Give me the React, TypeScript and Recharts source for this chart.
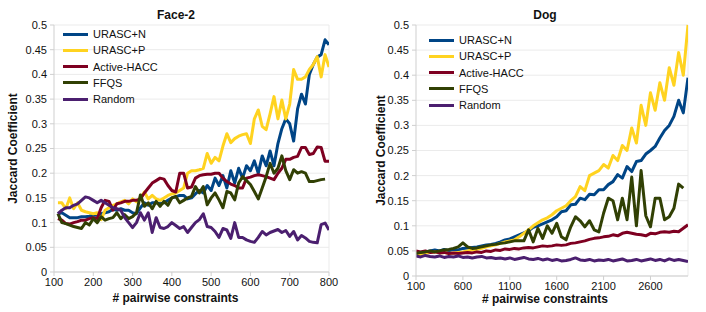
import { CartesianGrid, Label, Legend, Line, LineChart, ReferenceLine, XAxis, YAxis } from 'recharts'

const FONT = '"Liberation Sans", Arial, sans-serif'

const SERIES_NAMES = ['URASC+N', 'URASC+P', 'Active-HACC', 'FFQS', 'Random']
const SERIES_COLORS = ['#004586', '#ffd320', '#7e0021', '#314004', '#4b1f6f']
const Y_TICKS = [0, 0.05, 0.1, 0.15, 0.2, 0.25, 0.3, 0.35, 0.4, 0.45, 0.5]

// Face-2
const FACE_X = [
  110, 120, 130, 140, 150, 160, 170, 180, 190, 200,
  210, 220, 230, 240, 250, 260, 270, 280, 290, 300,
  310, 320, 330, 340, 350, 360, 370, 380, 390, 400,
  410, 420, 430, 440, 450, 460, 470, 480, 490, 500,
  510, 520, 530, 540, 550, 560, 570, 580, 590, 600,
  610, 620, 630, 640, 650, 660, 670, 680, 690, 700,
  710, 720, 730, 740, 750, 760, 770, 780, 790, 800,
]
const FACE_TICKS = [100, 200, 300, 400, 500, 600, 700, 800]
const FACE_N = [
  0.118, 0.12, 0.115, 0.11, 0.11, 0.11, 0.112, 0.112, 0.113, 0.115,
  0.115, 0.118, 0.12, 0.122, 0.127, 0.125, 0.128, 0.125, 0.125, 0.12,
  0.118, 0.13, 0.14, 0.135, 0.14, 0.14, 0.138, 0.14, 0.145, 0.15,
  0.152, 0.155, 0.155, 0.148, 0.15, 0.158, 0.165, 0.16, 0.175, 0.165,
  0.19, 0.175, 0.195, 0.17, 0.205, 0.18, 0.21, 0.19, 0.215, 0.205,
  0.225, 0.2, 0.235, 0.215, 0.245, 0.215, 0.26, 0.29, 0.31, 0.3,
  0.265, 0.33, 0.36, 0.34, 0.4, 0.42, 0.435, 0.44, 0.47, 0.46,
]
const FACE_P = [
  0.14, 0.14, 0.128, 0.15, 0.128, 0.14, 0.125, 0.122, 0.12, 0.118,
  0.12, 0.106, 0.125, 0.13, 0.135, 0.138, 0.142, 0.145, 0.138, 0.148,
  0.142, 0.15, 0.162, 0.148, 0.155, 0.148, 0.145, 0.15, 0.155, 0.158,
  0.16, 0.165, 0.17, 0.2, 0.205, 0.205, 0.207, 0.21, 0.24, 0.22,
  0.232, 0.225, 0.255, 0.28, 0.262, 0.27, 0.275, 0.278, 0.28, 0.26,
  0.31, 0.328, 0.295, 0.288, 0.32, 0.355, 0.31, 0.348, 0.31, 0.34,
  0.41, 0.39, 0.39, 0.395, 0.41, 0.42, 0.436, 0.395, 0.44, 0.415,
]
const FACE_HACC = [
  0.108, 0.105, 0.098, 0.097, 0.1, 0.102, 0.105, 0.105, 0.108, 0.11,
  0.108, 0.13, 0.145, 0.143, 0.125, 0.138, 0.14, 0.143, 0.143, 0.145,
  0.145, 0.148, 0.16, 0.17, 0.18, 0.185, 0.19, 0.188, 0.175, 0.165,
  0.162, 0.2, 0.2, 0.17, 0.172, 0.19, 0.195, 0.197, 0.198, 0.198,
  0.2, 0.2, 0.19, 0.183, 0.178, 0.175, 0.17, 0.17, 0.19, 0.192,
  0.195, 0.197, 0.195, 0.193, 0.19, 0.187, 0.2, 0.21, 0.228, 0.228,
  0.232, 0.234, 0.252, 0.252, 0.238, 0.24, 0.253, 0.252, 0.224, 0.224,
]
const FACE_FFQS = [
  0.118, 0.1, 0.098, 0.095, 0.092, 0.09, 0.088, 0.1, 0.095, 0.108,
  0.1, 0.112, 0.105, 0.108, 0.11, 0.12, 0.108, 0.116, 0.108, 0.112,
  0.12, 0.156, 0.133, 0.14, 0.128, 0.143, 0.133, 0.143, 0.135, 0.15,
  0.153, 0.14, 0.145, 0.15, 0.153, 0.173, 0.16, 0.173, 0.136, 0.15,
  0.16, 0.146, 0.13, 0.163, 0.16, 0.146, 0.18, 0.193, 0.185, 0.177,
  0.163, 0.148, 0.17, 0.193, 0.22, 0.2, 0.21, 0.235, 0.205, 0.187,
  0.207, 0.2, 0.203, 0.2, 0.183, 0.183, 0.185, 0.187, 0.188, null,
]
const FACE_RANDOM = [
  0.118, 0.125, 0.13, 0.13, 0.135, 0.138, 0.145, 0.152, 0.15, 0.145,
  0.14, 0.145, 0.14, 0.135, 0.13, 0.128, 0.125, 0.11, 0.1, 0.09,
  0.1, 0.12, 0.105, 0.12, 0.08, 0.11, 0.09, 0.088, 0.092, 0.1,
  0.094, 0.088, 0.092, 0.08, 0.09, 0.1, 0.106, 0.118, 0.092, 0.09,
  0.082, 0.07, 0.088, 0.085, 0.068, 0.1, 0.07, 0.07, 0.065, 0.062,
  0.06, 0.07, 0.082, 0.075, 0.08, 0.083, 0.086, 0.08, 0.084, 0.072,
  0.082, 0.065, 0.074, 0.069, 0.062, 0.06, 0.059, 0.096, 0.099, 0.085,
]

// Dog
const DOG_X = [
  100, 150, 200, 250, 300, 350, 400, 450, 500, 550,
  600, 650, 700, 750, 800, 850, 900, 950, 1000, 1050,
  1100, 1150, 1200, 1250, 1300, 1350, 1400, 1450, 1500, 1550,
  1600, 1650, 1700, 1750, 1800, 1850, 1900, 1950, 2000, 2050,
  2100, 2150, 2200, 2250, 2300, 2350, 2400, 2450, 2500, 2550,
  2600, 2650, 2700, 2750, 2800, 2850, 2900, 2950, 3000,
]
const DOG_TICKS = [100, 600, 1100, 1600, 2100, 2600]
const DOG_N = [
  0.045, 0.047, 0.048, 0.05, 0.052, 0.05, 0.053, 0.05, 0.053, 0.052,
  0.055, 0.056, 0.057, 0.058, 0.06, 0.062, 0.063, 0.065, 0.068, 0.072,
  0.074, 0.078, 0.082, 0.086, 0.09, 0.097, 0.1, 0.104, 0.108, 0.112,
  0.118, 0.128, 0.13, 0.142, 0.143, 0.155, 0.152, 0.163, 0.162, 0.172,
  0.172, 0.182, 0.188, 0.202, 0.195, 0.218, 0.208, 0.228, 0.23, 0.243,
  0.25, 0.258, 0.275, 0.29, 0.3, 0.318, 0.35, 0.325, 0.395,
]
const DOG_P = [
  0.04, 0.042, 0.045, 0.047, 0.048, 0.046, 0.047, 0.045, 0.046, 0.047,
  0.048, 0.05, 0.052, 0.053, 0.055, 0.058, 0.06, 0.062, 0.065, 0.068,
  0.07, 0.072, 0.078, 0.085, 0.092, 0.1, 0.106, 0.112, 0.116, 0.122,
  0.13, 0.135, 0.14, 0.15, 0.158, 0.178, 0.17, 0.2, 0.205, 0.21,
  0.222, 0.215, 0.24, 0.23, 0.26, 0.25, 0.295, 0.265, 0.34, 0.3,
  0.365, 0.33, 0.385, 0.35, 0.415, 0.38, 0.445, 0.4, 0.5,
]
const DOG_HACC = [
  0.05, 0.048, 0.05, 0.047, 0.048, 0.046, 0.047, 0.045, 0.046, 0.045,
  0.046, 0.047, 0.046, 0.048, 0.047, 0.05, 0.049, 0.052, 0.051, 0.054,
  0.053, 0.055, 0.054, 0.056, 0.057, 0.056, 0.058, 0.06, 0.059, 0.06,
  0.062, 0.061, 0.062, 0.065, 0.066, 0.068, 0.07, 0.073, 0.075, 0.076,
  0.078, 0.079, 0.082, 0.08, 0.085, 0.087, 0.085, 0.083, 0.082, 0.08,
  0.085, 0.084, 0.087, 0.088, 0.087, 0.089, 0.088, 0.095, 0.102,
]
const DOG_FFQS = [
  0.045, 0.047, 0.048, 0.05, 0.048, 0.05, 0.052, 0.053, 0.055, 0.058,
  0.066, 0.058, 0.055, 0.056, 0.058, 0.06, 0.062, 0.063, 0.065, 0.066,
  0.068, 0.07, 0.07, 0.07, 0.092, 0.068, 0.095, 0.075, 0.1, 0.085,
  0.105, 0.078, 0.072, 0.098, 0.118, 0.11, 0.098, 0.11, 0.092, 0.088,
  0.125, 0.155, 0.15, 0.112, 0.155, 0.112, 0.197, 0.1, 0.21, 0.12,
  0.098, 0.155, 0.155, 0.112, 0.118, 0.135, 0.183, 0.175, null,
]
const DOG_RANDOM = [
  0.04, 0.038, 0.041, 0.039, 0.038, 0.04, 0.037, 0.039, 0.038, 0.04,
  0.037, 0.038, 0.036, 0.038, 0.039, 0.036, 0.037, 0.035, 0.036, 0.034,
  0.036, 0.033, 0.035, 0.037, 0.034, 0.033, 0.035, 0.032, 0.034, 0.031,
  0.033, 0.03, 0.031, 0.033, 0.036, 0.032, 0.031, 0.033, 0.03, 0.032,
  0.031, 0.033, 0.03, 0.032, 0.034, 0.03, 0.031, 0.033, 0.03, 0.032,
  0.034, 0.031, 0.033, 0.03, 0.034, 0.031, 0.033, 0.031, 0.029,
]

function buildRows(xs: number[], cols: (number | null)[][]) {
  return xs.map((x, i) => {
    const row: Record<string, number | null> = { x }
    cols.forEach((c, k) => {
      row['s' + k] = c[i]
    })
    return row
  })
}

// legend in series order (recharts sorts by name otherwise)
function renderLegend() {
  return (
    <div style={{ fontFamily: FONT, fontSize: 11, color: '#111' }}>
      {SERIES_NAMES.map((name, k) => (
        <div key={name} style={{ display: 'flex', alignItems: 'center', height: 16.25 }}>
          <span style={{ display: 'inline-block', width: 25, height: 3, background: SERIES_COLORS[k], marginRight: 5 }} />
          <span>{name}</span>
        </div>
      ))}
    </div>
  )
}

interface PanelProps {
  xs: number[]
  cols: (number | null)[][]
  xMin: number
  xMax: number
  xTicks: number[]
  yAxisWidth: number
  xAxisHeight: number
  right: number
  legendLeft: number
  legendTop: number
  yLabelOffset: number
  xLabelOffset: number
  xLabelDx: number
}

function Panel(p: PanelProps) {
  const data = buildRows(p.xs, p.cols)
  const tickStyle = { fontSize: 11, fill: '#111', fontFamily: FONT }
  return (
    <LineChart width={353} height={312} data={data} margin={{ top: 25, right: p.right, bottom: 0, left: 0 }}>
      <CartesianGrid stroke="#ebebeb" vertical={false} />
      <ReferenceLine x={p.xMax} stroke="#ebebeb" />
      <XAxis
        dataKey="x"
        type="number"
        domain={[p.xMin, p.xMax]}
        ticks={p.xTicks}
        height={p.xAxisHeight}
        tick={tickStyle}
        tickSize={4}
        tickMargin={2}
        stroke="#cfcfcf"
        allowDataOverflow
      >
        <Label
          value="# pairwise constraints"
          position="insideBottom"
          offset={p.xLabelOffset}
          dx={p.xLabelDx}
          style={{ fontSize: 12, fontWeight: 'bold', fill: '#111', fontFamily: FONT }}
        />
      </XAxis>
      <YAxis
        type="number"
        domain={[0, 0.5]}
        ticks={Y_TICKS}
        width={p.yAxisWidth}
        tick={tickStyle}
        tickSize={4}
        tickMargin={3}
        stroke="#cfcfcf"
        tickFormatter={(v: number) => String(v)}
      >
        <Label
          value="Jaccard Coefficient"
          angle={-90}
          position="insideLeft"
          offset={p.yLabelOffset}
          textAnchor="middle"
          style={{ fontSize: 12, fontWeight: 'bold', fill: '#111', fontFamily: FONT, textAnchor: 'middle' }}
        />
      </YAxis>
      <Legend
        layout="vertical"
        align="center"
        verticalAlign="middle"
        content={renderLegend}
        wrapperStyle={{ left: p.legendLeft, top: p.legendTop, width: 150 }}
      />
      {SERIES_NAMES.map((name, k) => (
        <Line
          key={name}
          type="linear"
          dataKey={'s' + k}
          name={name}
          stroke={SERIES_COLORS[k]}
          strokeWidth={3}
          strokeLinejoin="round"
          dot={false}
          activeDot={false}
          isAnimationActive={false}
        />
      ))}
    </LineChart>
  )
}

const titleStyle = {
  position: 'absolute' as const,
  top: 8,
  fontFamily: FONT,
  fontSize: 12,
  fontWeight: 'bold' as const,
  color: '#111',
  textAlign: 'center' as const,
  lineHeight: '14px',
}

export default function App() {
  return (
    <div style={{ position: 'absolute', left: 0, top: 0, width: 706, height: 312, background: '#fff' }}>
      <div style={{ position: 'absolute', left: 0, top: 0 }}>
        <Panel
          xs={FACE_X}
          cols={[FACE_N, FACE_P, FACE_HACC, FACE_FFQS, FACE_RANDOM]}
          xMin={100}
          xMax={800}
          xTicks={FACE_TICKS}
          yAxisWidth={54}
          xAxisHeight={40}
          right={24}
          legendLeft={63}
          legendTop={26}
          yLabelOffset={13}
          xLabelOffset={10}
          xLabelDx={-16}
        />
      </div>
      <div style={{ ...titleStyle, left: 126, width: 100 }}>Face-2</div>
      <div style={{ position: 'absolute', left: 353, top: 0 }}>
        <Panel
          xs={DOG_X}
          cols={[DOG_N, DOG_P, DOG_HACC, DOG_FFQS, DOG_RANDOM]}
          xMin={100}
          xMax={3000}
          xTicks={DOG_TICKS}
          yAxisWidth={63}
          xAxisHeight={36}
          right={18}
          legendLeft={76}
          legendTop={32}
          yLabelOffset={28}
          xLabelOffset={9}
          xLabelDx={-7}
        />
      </div>
      <div style={{ ...titleStyle, left: 495, width: 100 }}>Dog</div>
    </div>
  )
}
